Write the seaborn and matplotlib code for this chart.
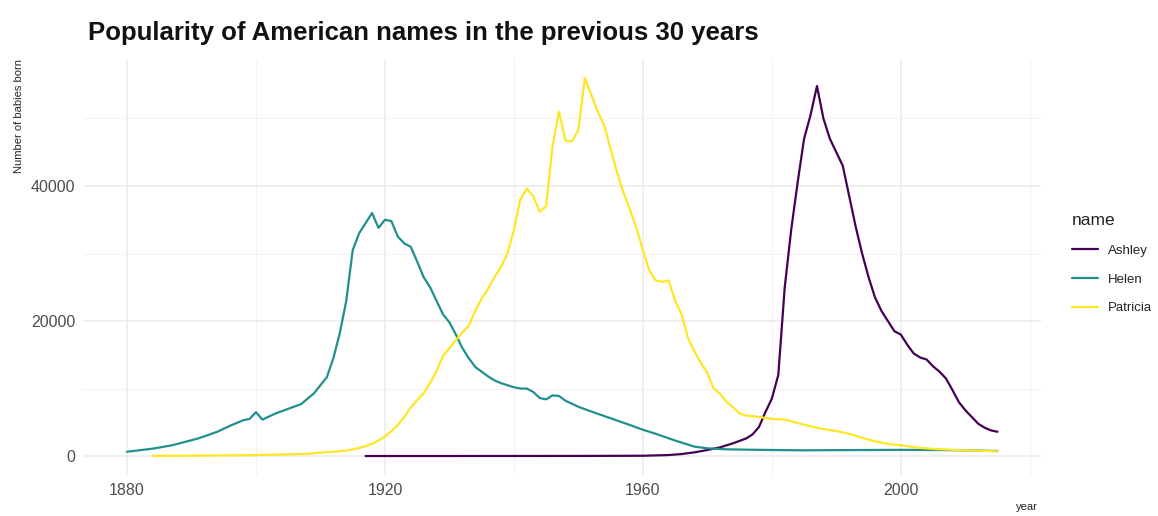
import matplotlib
matplotlib.use("Agg")
import matplotlib.pyplot as plt
from matplotlib.ticker import MultipleLocator
from matplotlib.lines import Line2D
import seaborn as sns
import pandas as pd

# Yearly counts of babies given each name
ashley_years = [1917, 1930, 1950, 1960, 1964, 1966, 1968, 1970, 1972, 1974, 1976, 1977,
                1978, 1979, 1980, 1981, 1982, 1983, 1984, 1985, 1986, 1987, 1988, 1989,
                1990, 1991, 1992, 1993, 1994, 1995, 1996, 1997, 1998, 1999, 2000, 2001,
                2002, 2003, 2004, 2005, 2006, 2007, 2008, 2009, 2010, 2011, 2012, 2013,
                2014, 2015]
ashley_counts = [10, 10, 20, 50, 150, 300, 550, 900, 1300, 1900, 2600, 3200,
                 4300, 6500, 8500, 12000, 25000, 33500, 40500, 47000, 50500, 54800, 50000, 47000,
                 45000, 43000, 38500, 34000, 30000, 26500, 23500, 21500, 20000, 18500, 18000, 16500,
                 15200, 14600, 14300, 13300, 12500, 11500, 9800, 8000, 6800, 5800, 4800, 4200,
                 3800, 3600]

helen_years = [1880, 1884, 1887, 1891, 1894, 1896, 1898, 1899, 1900, 1901, 1903, 1905,
               1907, 1909, 1911, 1912, 1913, 1914, 1915, 1916, 1917, 1918, 1919, 1920,
               1921, 1922, 1923, 1924, 1925, 1926, 1927, 1928, 1929, 1930, 1931, 1932,
               1933, 1934, 1935, 1936, 1937, 1938, 1939, 1940, 1941, 1942, 1943, 1944,
               1945, 1946, 1947, 1948, 1950, 1952, 1955, 1958, 1960, 1962, 1965, 1968,
               1970, 1973, 1976, 1980, 1985, 1990, 1995, 2000, 2005, 2010, 2015]
helen_counts = [640, 1100, 1600, 2600, 3600, 4500, 5300, 5500, 6500, 5400, 6300, 7000,
                7700, 9300, 11700, 14500, 18200, 23000, 30500, 33000, 34500, 36000, 33800, 35000,
                34800, 32500, 31500, 31000, 28800, 26500, 25000, 23000, 21000, 19800, 18000, 16000,
                14500, 13200, 12500, 11800, 11200, 10800, 10500, 10200, 10000, 10000, 9500, 8600,
                8400, 9000, 8900, 8200, 7300, 6600, 5600, 4600, 3900, 3300, 2300, 1400,
                1150, 1000, 950, 900, 850, 880, 900, 920, 900, 850, 750]

patricia_years = [1884, 1890, 1895, 1900, 1905, 1908, 1910, 1912, 1914, 1916, 1918, 1919,
                  1920, 1921, 1922, 1923, 1924, 1925, 1926, 1927, 1928, 1929, 1930, 1931,
                  1932, 1933, 1934, 1935, 1936, 1937, 1938, 1939, 1940, 1941, 1942, 1943,
                  1944, 1945, 1946, 1947, 1948, 1949, 1950, 1951, 1952, 1953, 1954, 1955,
                  1956, 1957, 1958, 1959, 1960, 1961, 1962, 1963, 1964, 1965, 1966, 1967,
                  1968, 1969, 1970, 1971, 1972, 1973, 1974, 1975, 1976, 1978, 1980, 1982,
                  1984, 1986, 1988, 1990, 1992, 1994, 1996, 1998, 2000, 2003, 2006, 2010,
                  2015]
patricia_counts = [30, 60, 100, 150, 250, 350, 500, 650, 800, 1200, 1800, 2300,
                   2900, 3700, 4600, 5800, 7200, 8300, 9300, 10800, 12600, 14800, 16000, 17200,
                   18300, 19300, 21500, 23300, 24800, 26500, 28000, 30000, 33500, 38000, 39600, 38500,
                   36200, 37000, 46000, 51000, 46700, 46600, 48300, 56000, 53500, 51000, 49000, 45500,
                   42000, 39000, 36500, 33800, 30500, 27500, 26000, 25800, 26000, 23000, 21000, 17500,
                   15500, 13800, 12300, 10000, 9200, 8000, 7200, 6300, 6000, 5800, 5500, 5400,
                   4900, 4400, 4000, 3700, 3300, 2700, 2200, 1800, 1600, 1200, 1000, 850,
                   700]

names = ["Ashley", "Helen", "Patricia"]
name_colors = ["#440154", "#21908C", "#FDE725"]

frames = []
for nm, yrs, cnt in [("Ashley", ashley_years, ashley_counts),
                     ("Helen", helen_years, helen_counts),
                     ("Patricia", patricia_years, patricia_counts)]:
    frames.append(pd.DataFrame({"year": yrs, "n": cnt, "name": nm}))
babies = pd.concat(frames, ignore_index=True)

sns.set_theme(style="white")
font_list = ["Liberation Sans Narrow", "Liberation Sans", "DejaVu Sans"]
plt.rcParams["font.family"] = font_list

fig = plt.figure(figsize=(11.58, 5.16), dpi=100)
ax = fig.add_axes([0.0721, 0.0795, 0.8269, 0.806])

sns.lineplot(data=babies, x="year", y="n", hue="name", hue_order=names,
             palette=name_colors, linewidth=1.6, ax=ax, legend=False,
             estimator=None, sort=True)

ax.set_xlim(1873.25, 2021.75)
ax.set_ylim(-2800, 58800)

ax.yaxis.set_major_locator(MultipleLocator(20000))
ax.yaxis.set_minor_locator(MultipleLocator(10000))
ax.set_xticks([1880, 1920, 1960, 2000])
ax.set_xticks([1900, 1940, 1980, 2020], minor=True)

ax.grid(which="major", color="#EBEBEB", linewidth=1.1)
ax.grid(which="minor", color="#F2F2F2", linewidth=0.8)
ax.set_axisbelow(True)
for s in ax.spines.values():
    s.set_visible(False)

ax.tick_params(axis="both", which="both", length=0, colors="#4D4D4D",
               labelsize=11.5, pad=6)

ax.set_xlabel("year", fontsize=8, color="#222222")
ax.xaxis.set_label_coords(0.985, -0.066)
ax.set_ylabel("Number of babies born", fontsize=8, color="#222222", loc="top")
ax.yaxis.set_label_coords(-0.062, 1.0)

fig.text(0.076, 0.937, "Popularity of American names in the previous 30 years",
         fontsize=18.5, fontweight="bold", color="#111111", va="center", ha="left")

handles = [Line2D([0], [0], color=c, linewidth=1.6) for c in name_colors]
leg = fig.legend(handles, names, title="name", loc="upper left",
                 bbox_to_anchor=(0.9255, 0.587), frameon=False,
                 fontsize=9.5, title_fontsize=12.5, labelspacing=1.25,
                 handlelength=2.0, handletextpad=0.75, borderaxespad=0,
                 borderpad=0)
leg._legend_box.align = "left"
leg.get_title().set_color("#222222")
for t in leg.get_texts():
    t.set_color("#222222")

fig.savefig("out.png", dpi=100, facecolor="white")
